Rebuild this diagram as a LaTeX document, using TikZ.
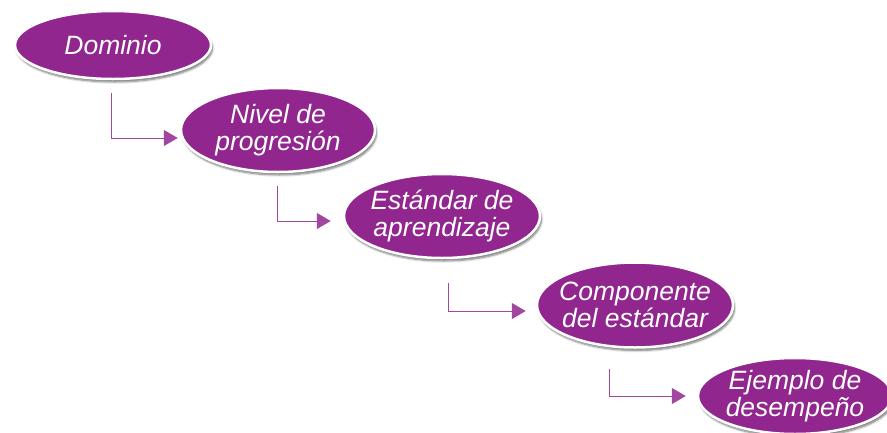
\documentclass[tikz,border=0pt]{standalone}
\usepackage{fontspec}
\setmainfont{Liberation Sans}
\usetikzlibrary{shapes.geometric,arrows.meta,shadows.blur}
\definecolor{morado}{HTML}{91268F}
\tikzset{
  nivel/.style={ellipse, fill=morado, draw=white, line width=2.5pt, inner sep=0pt,
    blur shadow={shadow xshift=1.5pt, shadow yshift=-3pt, shadow blur steps=6, shadow opacity=55}},
  texto/.style={text=white, align=center, font=\fontsize{26.5}{27}\selectfont\itshape},
  enlace/.style={draw=morado!85, line width=1pt, -{Triangle[length=14pt,width=16pt]}},
}
\begin{document}
\begin{tikzpicture}[x=1pt,y=-1pt]
  \useasboundingbox (0,0) rectangle (887,432);
  \node[nivel, minimum width=196pt, minimum height=68pt,
        label={[texto]center:Dominio}] (dom) at (113,45) {};
  \node[nivel, minimum width=194pt, minimum height=84pt,
        label={[texto]center:Nivel de\\progresión}] (niv) at (278,130) {};
  \node[nivel, minimum width=196pt, minimum height=84pt,
        label={[texto]center:Estándar de\\aprendizaje}] (est) at (442,216) {};
  \node[nivel, minimum width=196pt, minimum height=85pt,
        label={[texto]center:Componente\\del estándar}] (com) at (635,305) {};
  \node[nivel, minimum width=194pt, minimum height=76pt,
        label={[texto]center:Ejemplo de\\desempeño}] (eje) at (795,396) {};
  % enlaces
  \draw[enlace] ([xshift=-2pt,yshift=-13pt]dom.south) |- ([xshift=-2pt,yshift=-8pt]niv.west);
  \draw[enlace] ([xshift=-1pt,yshift=-13pt]niv.south) |- ([xshift=-12pt,yshift=-5pt]est.west);
  \draw[enlace] ([xshift=6pt,yshift=-24pt]est.south) |- ([xshift=-10pt,yshift=-6pt]com.west);
  \draw[enlace] ([xshift=-26pt,yshift=-20pt]com.south) |- ([xshift=-11pt,yshift=0pt]eje.west);
\end{tikzpicture}
\end{document}
